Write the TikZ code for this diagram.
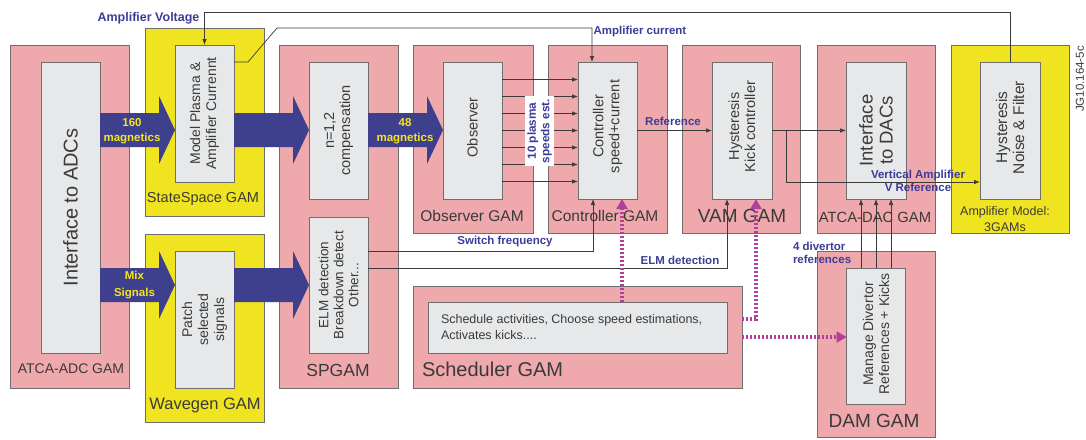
\documentclass[tikz,border=0pt]{standalone}
\usepackage{fontspec}
\setmainfont{Liberation Sans}
\usetikzlibrary{calc,arrows.meta}
\definecolor{gpink}{HTML}{EFA8AB}
\definecolor{gyellow}{HTML}{F0E421}
\definecolor{ginner}{HTML}{E6E8EA}
\definecolor{gedge}{HTML}{6E6E6E}
\definecolor{gtext}{HTML}{3A3A3A}
\definecolor{gblue}{HTML}{3D3D98}
\definecolor{gband}{HTML}{3E3F8D}
\definecolor{gmag}{HTML}{B0409A}
\definecolor{glab}{HTML}{F4E51C}
\newcommand\fsz[2]{\fontsize{#1}{#2}\selectfont}
\newcommand\fatarr[3]{\fill[gband] ($(#1 |- #3)+(0,-17)$) -- ($(#2 |- #3)+(-16,-17)$) -- ($(#2 |- #3)+(-16,-34)$) -- (#2 |- #3) -- ($(#2 |- #3)+(-16,34)$) -- ($(#2 |- #3)+(-16,17)$) -- ($(#1 |- #3)+(0,17)$) -- cycle;}
\begin{document}
\begin{tikzpicture}[x=1pt,y=-1pt,
  every node/.style={inner sep=0pt, outer sep=0pt},
  outerbox/.style={draw=gedge, line width=0.8pt, fill=gpink},
  yellowbox/.style={outerbox, fill=gyellow},
  innerbox/.style={draw=gedge, line width=0.8pt, fill=ginner},
  sized/.style 2 args={minimum width=#1pt, minimum height=#2pt},
  rottext/.style={rotate=90, align=center, text=gtext},
  gamlabel/.style={text=gtext},
  conn/.style={draw=gtext, line width=0.7pt, -{Latex[length=6pt,width=4.5pt]}},
  bluelabel/.style={text=gblue, font=\bfseries\fsz{11.5}{13}, align=center},
  bandlabel/.style={text=glab, font=\bfseries\fsz{11.5}{15}, align=center},
  dotarrow/.style={draw=gmag, line width=3.2pt, dash pattern=on 2.4pt off 1.6pt, -{Triangle[length=10pt,width=11pt]}},
]
\useasboundingbox (0,0) rectangle (1086,439);
% outer boxes
\node[outerbox, sized={119}{343}] (adc) at (69.5,216.5) {};
\node[yellowbox, sized={119}{188}] (ss) at (204.5,122) {};
\node[yellowbox, sized={119}{188}] (wg) at (204.5,328) {};
\node[outerbox, sized={119}{343}] (sp) at (338.5,216.5) {};
\node[outerbox, sized={120}{188}] (obs) at (473,139) {};
\node[outerbox, sized={119}{188}] (ctl) at (607.5,139) {};
\node[outerbox, sized={118}{188}] (vam) at (741,139) {};
\node[outerbox, sized={118}{188}] (dac) at (876,139) {};
\node[yellowbox, sized={118}{188}] (amp) at (1010,139) {};
\node[outerbox, sized={329}{102}] (sch) at (577.5,337) {};
\node[outerbox, sized={118}{186}] (dam) at (876,344) {};
% inner boxes
\node[innerbox, sized={59}{291}] (adci) at (70.5,207.5) {};
\node[innerbox, sized={59}{137}] (ssi) at (204.5,113.5) {};
\node[innerbox, sized={59}{137}] (wgi) at (204.5,319.5) {};
\node[innerbox, sized={59}{137}] (comp) at (338.5,130.5) {};
\node[innerbox, sized={59}{136}] (elm) at (338.5,285) {};
\node[innerbox, sized={59}{137}] (obsi) at (472.5,130.5) {};
\node[innerbox, sized={59}{137}] (ctli) at (607.5,130.5) {};
\node[innerbox, sized={60}{137}] (vami) at (742,130.5) {};
\node[innerbox, sized={60}{137}] (daci) at (876,130.5) {};
\node[innerbox, sized={60}{137}] (ampi) at (1010,130.5) {};
\node[innerbox, sized={299}{51}] (schi) at (577.5,327.5) {};
\node[innerbox, sized={59}{136}] (dami) at (876,336) {};
% inner texts
\node[rottext, font=\fsz{20}{22}] (adct) at (adci) {Interface to ADCs};
\node[rottext, font=\fsz{14}{16}] (sst) at (ssi) {Model Plasma \&\\Amplifier Currennt};
\node[rottext, font=\fsz{14}{16}] (wgt) at (wgi) {Patch\\selected\\signals};
\node[rottext, font=\fsz{14.5}{16}] (compt) at (comp) {n=1,2\\compensation};
\node[rottext, font=\fsz{13.5}{15}] (elmt) at (elm) {ELM detection\\Breakdown detect\\Other...};
\node[rottext, font=\fsz{14.5}{16}] (obst) at ($(obsi)+(0,-3)$) {Observer};
\node[rottext, font=\fsz{14.5}{16}] (ctlt) at ($(ctli)+(0,-4)$) {Controller\\speed+current};
\node[rottext, font=\fsz{14.5}{16}] (vamt) at ($(vami)+(0,-4)$) {Hysteresis\\Kick controller};
\node[rottext, font=\fsz{18.5}{20}] (dact) at (daci) {Interface\\to DACs};
\node[rottext, font=\fsz{15.5}{17}] (ampt) at ($(ampi)+(0,-3)$) {Hysteresis\\Noise \& Filter};
\node[rottext, font=\fsz{14}{16}] (damt) at ($(dami)+(0,-2)$) {Manage Divertor\\References + Kicks};
\node[text=gtext, align=left, anchor=west, font=\fsz{12.5}{16}] (scht) at (441,327) {Schedule activities, Choose speed estimations,\\Activates kicks....};
% GAM labels
\node[gamlabel, font=\fsz{14}{16}] (adcl) at (71,369) {ATCA-ADC GAM};
\node[gamlabel, font=\fsz{14.5}{16}] (ssl) at (203,199) {StateSpace GAM};
\node[gamlabel, font=\fsz{16.5}{18}] (wgl) at (205,405) {Wavegen GAM};
\node[gamlabel, font=\fsz{17.5}{19}] (spl) at (338,370) {SPGAM};
\node[gamlabel, font=\fsz{15.5}{17}] (obsl) at (472,216) {Observer GAM};
\node[gamlabel, font=\fsz{15.5}{17}] (ctll) at (605,216) {Controller GAM};
\node[gamlabel, font=\fsz{19}{21}] (vaml) at (742,216) {VAM GAM};
\node[gamlabel, font=\fsz{14.8}{17}] (dacl) at (875,217) {ATCA-DAC GAM};
\node[gamlabel, font=\fsz{12.5}{16}, align=center] (ampl) at (1005,219) {Amplifier Model:\\3GAMs};
\node[gamlabel, font=\fsz{20}{22}, anchor=west] (schl) at (422,369) {Scheduler GAM};
\node[gamlabel, font=\fsz{19}{21}] (daml) at (874,421) {DAM GAM};
% fat arrows
\coordinate (ya) at (0,130);
\coordinate (yb) at (0,285);
\fatarr{adci.east}{ssi.west}{ya}
\fatarr{ssi.east}{comp.west}{ya}
\fatarr{comp.east}{obsi.west}{ya}
\fatarr{adci.east}{wgi.west}{yb}
\fatarr{wgi.east}{elm.west}{yb}
\node[bandlabel] (b1) at (132,131) {160\\magnetics};
\node[bandlabel] (b2) at (405,131) {48\\magnetics};
\node[bandlabel, font=\bfseries\fsz{11.5}{17}] (b3) at (134.5,285.5) {Mix\\Signals};
% connectors
\draw[conn] (ampi.north) -- ++(0,-50) -| (ssi.north);
\draw[conn] ($(ssi.north east)+(0,17)$) -- ++(14,0) -- ++(29,-34) -| ($(ctli.north)+(-15.5,0)$);
\draw[conn] (ctli.east) -- (vami.west);
\draw[conn] (vami.east) -- (daci.west);
\coordinate (br) at ($(vami.east)+(14,0)$);
\draw[conn] (br) |- ($(ampi.west)+(0,51.5)$);
\draw[conn] ($(elm.east)+(0,-34)$) -| ($(ctli.south)+(-14.5,0)$);
\draw[conn] ($(elm.east)+(0,-17)$) -| ($(vami.south)+(-15,0)$);
\foreach \d in {-51,-34,-17,0,17,34,51} \draw[conn] ($(obsi.east)+(0,\d)$) -- ($(ctli.west)+(0,\d)$);
\foreach \d in {-15,0,15} \draw[conn] ($(dami.north)+(\d,0)$) -- ($(daci.south)+(\d,0)$);
% dotted scheduler arrows
\draw[dotarrow] ($(schi.north)+(44.5,0)$) -- ($(ctli.south)+(14.5,0)$);
\draw[dotarrow] ($(sch.east)+(0,-18)$) -| ($(vami.south)+(14,0)$);
\draw[dotarrow] (sch.east) -- (sch.east -| dami.west);
% blue labels
\node[bluelabel, font=\bfseries\fsz{12.5}{14}] (avl) at (148.5,18) {Amplifier Voltage};
\node[bluelabel] (acl) at (640,32) {Amplifier current};
\node[bluelabel] (refl) at (673,121) {Reference};
\node[bluelabel] (swl) at (505,242) {Switch frequency};
\node[bluelabel] (elml) at (680,260) {ELM detection};
\node[bluelabel, align=left, anchor=west] (divl) at (793,253) {4 divertor\\references};
\node[bluelabel] (vrl) at (918,181) {Vertical Amplifier\\V Reference};
\node[bluelabel, font=\bfseries\fsz{11.8}{13.5}, fill=white, rotate=90, minimum width=70pt, minimum height=29pt] (spdl) at (539.5,131) {10 plasma\\speeds est.};
\node[rotate=90, text=gtext, font=\fsz{11.5}{13}] (jg) at (1080,79) {JG10.164-5c};
\end{tikzpicture}
\end{document}
